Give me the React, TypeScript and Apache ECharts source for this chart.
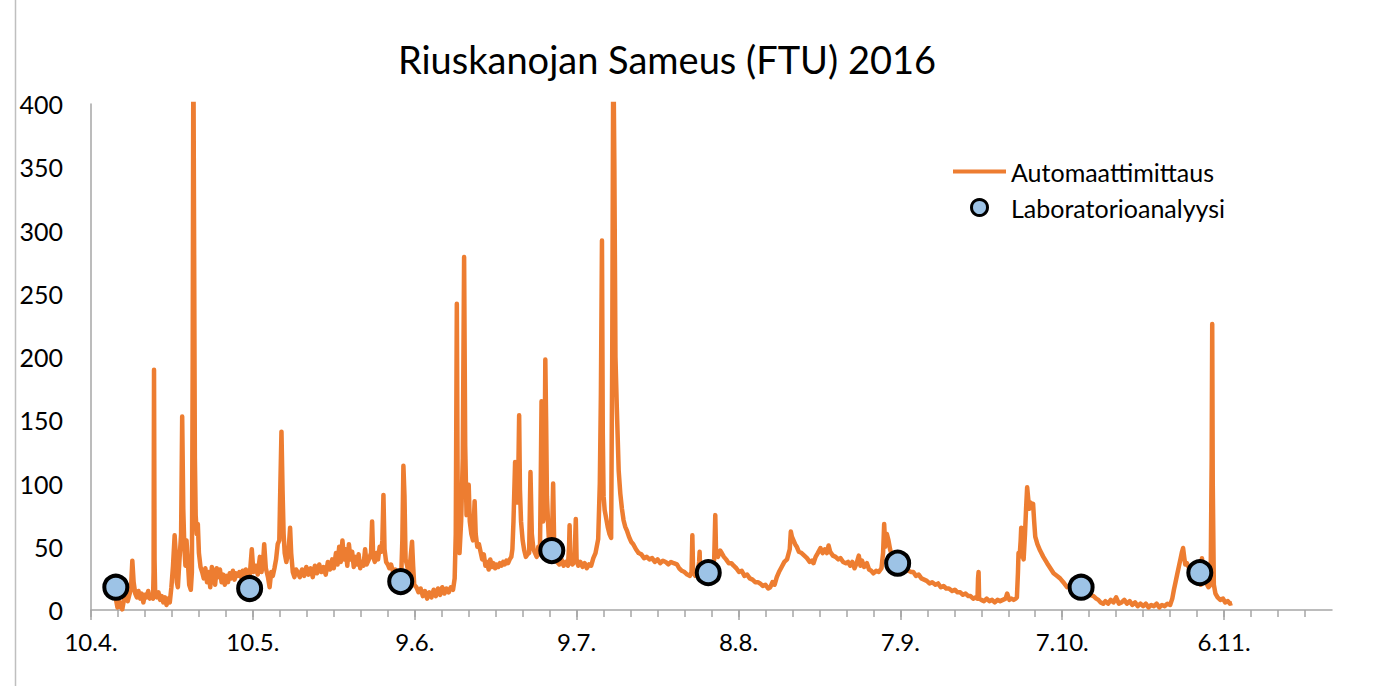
import React, { useEffect, useRef } from 'react';
import * as echarts from 'echarts';

// x values are days after 10.4.2016
const START_UTC = Date.UTC(2016, 3, 10);
const X_MAX_DAYS = 230;
const majorTickDays = [0, 30, 60, 90, 120, 150, 180, 210];

const titleText = 'Riuskanojan Sameus (FTU) 2016';
const seriesNames = ['Automaattimittaus', 'Laboratorioanalyysi'];

// Automaattimittaus (FTU), [day, value]
const aprilMay: [number, number][] = [
  [4.1, 24], [4.3, 16], [4.6, 9], [4.9, 2], [5.2, 7], [5.5, 3], [5.8, 0.5], [6.1, 8], [6.4, 11], [6.8, 7],
  [7.1, 12], [7.4, 16], [7.66, 39], [7.9, 22], [8.2, 13], [8.5, 10], [8.8, 15], [9.1, 9], [9.4, 13], [9.7, 6],
  [10.0, 12], [10.3, 10], [10.6, 15], [10.9, 9], [11.2, 12], [11.5, 9], [11.6, 30], [11.68, 190], [11.78, 40], [11.9, 12],
  [12.2, 10], [12.5, 14], [12.8, 8], [13.1, 11], [13.4, 6], [13.7, 10], [14.0, 4], [14.3, 9], [14.6, 6], [14.9, 18],
  [15.2, 35], [15.5, 59], [15.7, 45], [15.9, 22], [16.1, 18], [16.4, 40], [16.7, 60], [16.9, 153], [17.1, 80], [17.3, 50],
  [17.5, 35], [17.7, 55], [17.9, 42], [18.2, 20], [18.5, 16], [18.7, 30], [18.85, 200], [18.97, 450], [19.1, 300], [19.25, 120],
  [19.4, 75], [19.6, 60], [19.8, 68], [20.0, 45], [20.3, 34], [20.6, 30], [20.9, 25], [21.2, 33], [21.5, 22], [21.8, 30],
  [22.1, 18], [22.4, 34], [22.7, 28], [23.0, 20], [23.3, 33], [23.6, 26], [23.9, 32], [24.2, 22], [24.5, 28], [24.8, 20],
  [25.1, 27], [25.4, 22], [25.7, 29], [26.0, 25], [26.3, 31], [26.6, 24], [26.9, 29], [27.2, 27], [27.5, 30], [27.8, 26],
  [28.1, 31], [28.4, 25], [28.7, 32], [29.0, 28], [29.4, 26], [29.8, 48], [30.1, 30], [30.5, 35], [30.9, 28], [31.3, 42],
  [31.6, 30], [31.9, 38], [32.1, 52], [32.4, 33], [32.8, 26], [33.1, 18], [33.4, 30], [33.7, 27], [34.0, 33], [34.3, 40],
  [34.6, 52], [34.9, 55], [35.1, 100], [35.3, 141], [35.5, 95], [35.7, 60], [35.9, 45], [36.2, 38], [36.6, 46], [36.9, 65],
  [37.1, 45], [37.4, 30], [37.7, 26], [38.0, 32],
];

const mayJune: [number, number][] = [
  [38.3, 30], [38.7, 26], [39.1, 32], [39.5, 27], [39.9, 34], [40.3, 28], [40.7, 33], [41.1, 26], [41.5, 35], [41.9, 29],
  [42.3, 36], [42.7, 30], [43.1, 34], [43.5, 28], [43.9, 38], [44.3, 32], [44.7, 40], [45.0, 33], [45.4, 45], [45.7, 36],
  [46.0, 50], [46.3, 38], [46.6, 55], [46.9, 40], [47.2, 48], [47.5, 35], [47.8, 52], [48.1, 40], [48.4, 46], [48.7, 34],
  [49.0, 42], [49.3, 36], [49.6, 44], [49.9, 33], [50.2, 38], [50.5, 35], [50.8, 48], [51.1, 36], [51.5, 40], [51.9, 45],
  [52.1, 70], [52.3, 42], [52.6, 38], [52.9, 45], [53.2, 40], [53.5, 50], [53.8, 46], [54.0, 55], [54.2, 91], [54.4, 48],
  [54.7, 38], [55.0, 36], [55.3, 33], [55.6, 36], [56.0, 30], [56.4, 32], [56.8, 28], [57.2, 30], [57.5, 28], [57.7, 55],
  [57.9, 114], [58.1, 90], [58.3, 40], [58.6, 35], [58.9, 28], [59.2, 40], [59.5, 54], [59.7, 35], [59.9, 20], [60.3, 18],
  [60.7, 14], [61.1, 17], [61.5, 11], [61.9, 15], [62.3, 9], [62.7, 14], [63.1, 10], [63.5, 16], [63.9, 11], [64.3, 17],
  [64.7, 12], [65.1, 18], [65.5, 13], [65.9, 17], [66.3, 14], [66.7, 18], [67.1, 16], [67.4, 25], [67.6, 60], [67.8, 242],
  [67.95, 100], [68.1, 50], [68.3, 45], [68.6, 70], [68.9, 120], [69.15, 279], [69.35, 130], [69.6, 75], [69.8, 95], [70.0, 99],
  [70.2, 70], [70.5, 60], [70.8, 55], [71.1, 86], [71.3, 60], [71.6, 50], [71.9, 52], [72.2, 46], [72.5, 40], [72.8, 44],
  [73.1, 35], [73.4, 38], [73.7, 32], [74.0, 40], [74.3, 34], [74.6, 37], [74.9, 33], [75.2, 36], [75.5, 34], [75.8, 37],
  [76.1, 35], [76.4, 38], [76.7, 36], [77.0, 39], [77.3, 37], [77.6, 40], [77.9, 42], [78.1, 48], [78.3, 70], [78.6, 117],
  [78.8, 100], [79.0, 85], [79.2, 110], [79.35, 154], [79.5, 95], [79.7, 70], [80.0, 55], [80.3, 47], [80.6, 42], [80.9, 44],
  [81.2, 45], [81.45, 109], [81.7, 60], [82.0, 48], [82.3, 45], [82.6, 42], [82.9, 50], [83.2, 44], [83.35, 100], [83.5, 165],
  [83.65, 120], [83.8, 70], [84.0, 75], [84.2, 198], [84.35, 150], [84.5, 90], [84.7, 70], [84.9, 52], [85.1, 45], [85.4, 48],
  [85.65, 100], [85.85, 50], [86.1, 42], [86.4, 38], [86.8, 36], [87.2, 40], [87.6, 35], [88.0, 38], [88.4, 35], [88.6, 50],
  [88.7, 67], [88.85, 38], [89.2, 36], [89.6, 38], [89.85, 72], [90.0, 40], [90.3, 35], [90.7, 38], [91.1, 34], [91.5, 37],
];

const julyAugust: [number, number][] = [
  [91.9, 33], [92.3, 36], [92.7, 35], [93.1, 41], [93.5, 45], [94.0, 56], [94.3, 100], [94.5, 170], [94.7, 292], [94.85, 140],
  [95.0, 90], [95.2, 79], [95.5, 72], [95.8, 65], [96.1, 60], [96.4, 57], [96.6, 200], [96.8, 450], [97.0, 350], [97.2, 200],
  [97.45, 160], [97.8, 110], [98.1, 92], [98.4, 80], [98.7, 71], [99.0, 66], [99.3, 63], [99.7, 58], [100.1, 54], [100.5, 52],
  [101.0, 48], [101.5, 45], [102.0, 44], [102.5, 41], [103.0, 42], [103.5, 40], [104.0, 41], [104.5, 38], [105.0, 40], [105.5, 37],
  [106.0, 39], [106.5, 38], [107.0, 36], [107.5, 38], [108.0, 37], [108.6, 36], [109.0, 33], [109.5, 31], [110.0, 30], [110.5, 28],
  [111.0, 27], [111.3, 30], [111.45, 59], [111.6, 30], [112.0, 27], [112.4, 28], [112.7, 38], [112.8, 46], [112.9, 30], [113.3, 28],
  [113.8, 27], [114.4, 29], [115.0, 31], [115.5, 40], [115.7, 75], [115.85, 45], [116.2, 42], [116.6, 47], [116.9, 45], [117.3, 42],
  [117.7, 40], [118.2, 37], [118.7, 37], [119.1, 35], [119.6, 33], [120.1, 30], [120.6, 31], [121.1, 27], [121.6, 28], [122.1, 25],
  [122.6, 24], [123.1, 22], [123.6, 22], [124.0, 21], [124.5, 19], [125.0, 20], [125.5, 17], [125.9, 18], [126.3, 22], [126.7, 20],
  [127.1, 26], [127.5, 30], [128.0, 34], [128.5, 38], [129.0, 40], [129.5, 48], [129.7, 62], [129.9, 58], [130.2, 55], [130.5, 52],
  [130.8, 50], [131.2, 46], [131.7, 45], [132.2, 43], [132.7, 41], [133.2, 38], [133.6, 39], [133.9, 37], [134.3, 42], [134.7, 45],
  [135.2, 49], [135.6, 45], [136.0, 48], [136.4, 45], [136.7, 51], [137.0, 46], [137.5, 43], [138.0, 42], [138.5, 40], [138.9, 41],
];

const augustOctober: [number, number][] = [
  [139.4, 38], [139.9, 37], [140.3, 38], [140.7, 35], [141.1, 38], [141.5, 33], [141.9, 37], [142.3, 43], [142.6, 35], [142.9, 39],
  [143.3, 34], [143.8, 37], [144.2, 32], [144.6, 31], [145.0, 29], [145.5, 31], [146.0, 30], [146.5, 33], [146.8, 45], [147.0, 68],
  [147.2, 50], [147.5, 60], [147.8, 55], [148.1, 48], [148.5, 42], [149.0, 40], [149.5, 37], [150.0, 35], [150.5, 34], [151.0, 33],
  [151.5, 31], [152.0, 30], [152.4, 30], [152.9, 27], [153.4, 28], [153.9, 25], [154.4, 24], [154.9, 23], [155.4, 21], [155.9, 22],
  [156.5, 20], [157.0, 21], [157.5, 18], [158.0, 19], [158.5, 17], [159.0, 17], [159.6, 15], [160.1, 16], [160.6, 14], [161.1, 14],
  [161.6, 12], [162.1, 13], [162.6, 11], [163.0, 11], [163.5, 9], [164.0, 10], [164.3, 9], [164.4, 25], [164.5, 30], [164.6, 9],
  [165.0, 8], [165.5, 7], [166.0, 9], [166.5, 7], [167.0, 8], [167.5, 6], [168.0, 8], [168.5, 7], [169.0, 8], [169.5, 9],
  [169.8, 13], [170.2, 8], [170.6, 9], [171.0, 8], [171.4, 9], [171.6, 10], [171.8, 30], [171.9, 45], [172.1, 42], [172.3, 55],
  [172.4, 65], [172.55, 45], [172.85, 40], [173.1, 60], [173.3, 80], [173.5, 97], [173.7, 88], [173.9, 80], [174.1, 85], [174.4, 82],
  [174.6, 84], [174.8, 70], [175.0, 58], [175.4, 52], [175.9, 47], [176.5, 42], [177.2, 37], [177.8, 33], [178.4, 29], [179.0, 27],
  [179.6, 25], [180.2, 22], [180.9, 18], [181.5, 19], [182.2, 17], [182.8, 18], [183.5, 17], [184.1, 15], [184.7, 13], [185.2, 12],
];

const octoberNovember: [number, number][] = [
  [185.8, 11], [186.3, 9], [186.7, 8], [187.1, 6], [187.6, 5], [188.0, 7], [188.5, 5], [189.0, 8], [189.5, 6], [190.0, 10],
  [190.5, 5], [191.0, 6], [191.5, 8], [192.0, 5], [192.5, 7], [193.0, 4], [193.5, 6], [194.0, 3], [194.5, 5], [195.0, 3],
  [195.5, 5], [196.0, 2], [196.5, 4], [197.0, 3], [197.5, 5], [198.0, 2], [198.5, 4], [199.0, 3], [199.5, 5], [200.0, 4],
  [200.4, 9], [200.7, 16], [201.0, 22], [201.3, 28], [201.6, 34], [202.0, 42], [202.2, 46], [202.4, 49], [202.6, 42], [202.8, 36],
  [203.1, 37], [203.4, 34], [203.8, 32], [204.2, 30], [204.6, 26], [205.0, 28], [205.5, 25], [205.7, 20], [205.9, 41], [206.2, 30],
  [206.6, 22], [207.1, 18], [207.5, 20], [207.7, 120], [207.8, 226], [207.9, 100], [208.1, 20], [208.4, 13], [208.8, 10], [209.3, 8],
  [209.8, 9], [210.2, 6], [210.7, 7], [211.1, 5], [211.5, 5.5],
];

// Laboratorioanalyysi
const labDays = [4.6, 29.4, 57.4, 85.4, 114.4, 149.5, 183.5, 205.5];
const labValues = [18, 17, 22.5, 47, 29.5, 37, 18, 29.5];

const ORANGE = '#ED7D31';
const LIGHT_BLUE = '#9DC3E6';
const AXIS_GRAY = '#A6A6A6';
const FONT = 'Lato, "Noto Sans", sans-serif';

function dayLabel(v: number): string {
  const dt = new Date(START_UTC + Math.round(v) * 86400000);
  return `${dt.getUTCDate()}.${dt.getUTCMonth() + 1}.`;
}

export default function App() {
  const ref = useRef<HTMLDivElement>(null);

  useEffect(() => {
    if (!ref.current) return;
    const chart = echarts.init(ref.current, undefined, { renderer: 'svg' });
    const autoData = [...aprilMay, ...mayJune, ...julyAugust, ...augustOctober, ...octoberNovember];
    const labData = labDays.map((d, i) => [d, labValues[i]]);

    chart.setOption({
      animation: false,
      backgroundColor: '#ffffff',
      title: {
        text: titleText,
        left: 662,
        top: 35,
        textAlign: 'center',
        textStyle: { fontFamily: FONT, fontSize: 38, fontWeight: 'normal', color: '#000' },
      },
      legend: {
        orient: 'vertical',
        left: 948,
        top: 154,
        itemWidth: 53,
        itemHeight: 16,
        itemGap: 11,
        symbolKeepAspect: true,
        textStyle: { fontFamily: FONT, fontSize: 25, color: '#000' },
        data: [
          { name: seriesNames[0], icon: 'path://M0 0H53V4H0Z' },
          { name: seriesNames[1], icon: 'circle', itemStyle: { borderWidth: 3 } },
        ],
      },
      grid: { left: 91, right: 68, top: 104, bottom: 76, containLabel: false },
      xAxis: [
        {
          type: 'value',
          min: 0,
          max: X_MAX_DAYS,
          interval: 5,
          position: 'bottom',
          axisLine: { show: true, lineStyle: { color: AXIS_GRAY, width: 1.5 } },
          axisTick: { show: true, length: 7, lineStyle: { color: AXIS_GRAY, width: 1.5 } },
          axisLabel: {
            show: true,
            margin: 19,
            fontFamily: FONT,
            fontSize: 24,
            color: '#000',
            showMaxLabel: false,
            formatter: (v: number) => (majorTickDays.includes(Math.round(v)) ? dayLabel(v) : ''),
          },
          splitLine: { show: false },
        },
        {
          type: 'value',
          min: 0,
          max: X_MAX_DAYS,
          interval: 30,
          position: 'bottom',
          axisLine: { show: false },
          axisTick: { show: true, length: 10, customValues: majorTickDays, lineStyle: { color: AXIS_GRAY, width: 1.5 } },
          axisLabel: { show: false },
          splitLine: { show: false },
        },
      ],
      yAxis: {
        type: 'value',
        min: 0,
        max: 400,
        interval: 50,
        axisLine: { show: true, lineStyle: { color: AXIS_GRAY, width: 1.5 } },
        axisTick: { show: false },
        axisLabel: { margin: 28, fontFamily: FONT, fontSize: 25, color: '#000' },
        splitLine: { show: false },
      },
      series: [
        {
          name: seriesNames[0],
          type: 'line',
          xAxisIndex: 0,
          data: autoData,
          symbol: 'none',
          showSymbol: false,
          clip: true,
          lineStyle: { color: ORANGE, width: 4.5, join: 'round' },
          itemStyle: { color: ORANGE },
        },
        {
          name: seriesNames[1],
          type: 'scatter',
          xAxisIndex: 0,
          data: labData,
          symbol: 'circle',
          symbolSize: 23,
          itemStyle: { color: LIGHT_BLUE, borderColor: '#000', borderWidth: 4, opacity: 1 },
          z: 5,
        },
      ],
      graphic: [
        {
          type: 'line',
          shape: { x1: 15.5, y1: 0, x2: 15.5, y2: 686 },
          style: { stroke: '#BFBFBF', lineWidth: 1.5 },
          silent: true,
        },
      ],
    });

    return () => chart.dispose();
  }, []);

  return (
    <div
      ref={ref}
      style={{ position: 'fixed', left: 0, top: 0, width: 1400, height: 686, background: '#fff' }}
    />
  );
}
